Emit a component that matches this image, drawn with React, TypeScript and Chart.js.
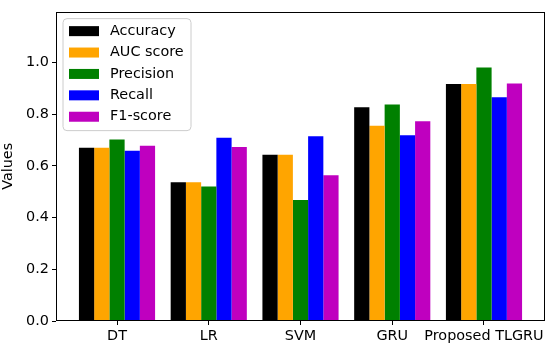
import React, { useEffect, useRef } from "react";
import { Chart, registerables } from "chart.js";

Chart.register(...registerables);

const categories = ["DT", "LR", "SVM", "GRU", "Proposed TLGRU"];
const seriesNames = ["Accuracy", "AUC score", "Precision", "Recall", "F1-score"];
const accuracy = [0.67, 0.536, 0.643, 0.826, 0.916];
const aucScore = [0.67, 0.536, 0.643, 0.755, 0.916];
const precision = [0.702, 0.52, 0.468, 0.837, 0.98];
const recall = [0.658, 0.708, 0.714, 0.718, 0.865];
const f1Score = [0.678, 0.673, 0.563, 0.772, 0.918];
const yTicks = [0, 0.2, 0.4, 0.6, 0.8, 1.0];
const colors = ["#000000", "#ffa500", "#008000", "#0000ff", "#bf00bf"];

const FONT = "DejaVu Sans";
const FS = 14.4;

const framePlugin = {
  id: "frameAndLegend",
  afterDatasetsDraw(chart: any) {
    const { ctx, chartArea } = chart;
    const { left, right, top, bottom } = chartArea;
    ctx.save();
    ctx.strokeStyle = "#000";
    ctx.lineWidth = 1;
    ctx.strokeRect(Math.round(left) + 0.5, Math.round(top) + 0.5, Math.round(right - left) - 1, Math.round(bottom - top) - 1);

    // legend
    const lx = left + 7, ly = top + 7, lw = 128, lh = 112, r = 4;
    ctx.beginPath();
    ctx.moveTo(lx + r, ly);
    ctx.arcTo(lx + lw, ly, lx + lw, ly + lh, r);
    ctx.arcTo(lx + lw, ly + lh, lx, ly + lh, r);
    ctx.arcTo(lx, ly + lh, lx, ly, r);
    ctx.arcTo(lx, ly, lx + lw, ly, r);
    ctx.closePath();
    ctx.fillStyle = "rgba(255,255,255,0.8)";
    ctx.fill();
    ctx.strokeStyle = "#cccccc";
    ctx.stroke();
    ctx.font = `${FS}px "${FONT}"`;
    ctx.textBaseline = "middle";
    ctx.textAlign = "left";
    seriesNames.forEach((name, i) => {
      const cy = ly + 12.5 + i * 21.4;
      ctx.fillStyle = colors[i];
      ctx.fillRect(lx + 6, cy - 5, 30, 10);
      ctx.fillStyle = "#000";
      ctx.fillText(name, lx + 47, cy);
    });

    // y label
    ctx.save();
    ctx.translate(8.5, (top + bottom) / 2);
    ctx.rotate(-Math.PI / 2);
    ctx.textAlign = "center";
    ctx.textBaseline = "middle";
    ctx.fillStyle = "#000";
    ctx.fillText("Values", 0, 0);
    ctx.restore();
    ctx.restore();
  },
};

export default function App() {
  const ref = useRef<HTMLCanvasElement>(null);
  useEffect(() => {
    const series = [accuracy, aucScore, precision, recall, f1Score];
    const chart = new Chart(ref.current!, {
      type: "bar",
      data: {
        datasets: series.map((vals, s) => ({
          label: seriesNames[s],
          data: categories.map((_, i) => ({ x: i, y: vals[i] })),
          backgroundColor: colors[s],
          borderWidth: 0,
          categoryPercentage: 0.83,
          barPercentage: 1.0,
        })),
      },
      options: {
        animation: false,
        responsive: false,
        maintainAspectRatio: false,
        layout: { padding: { top: 4, right: 5, left: 0, bottom: 0 } },
        plugins: { legend: { display: false }, tooltip: { enabled: false } },
        scales: {
          x: {
            type: "linear",
            offset: false,
            min: -0.665,
            max: 4.665,
            afterBuildTicks: (scale: any) => {
              scale.ticks = categories.map((_, i) => ({ value: i }));
            },
            afterFit: (scale: any) => {
              scale.height = 25;
            },
            ticks: {
              callback: (v: any) => categories[Math.round(Number(v))],
              color: "#000",
              font: { family: FONT, size: FS },
              padding: 3,
              maxRotation: 0,
              autoSkip: false,
            },
            grid: { offset: false, drawOnChartArea: false, tickLength: 4, color: "#000", tickColor: "#000" },
            border: { display: false },
          },
          y: {
            min: 0,
            max: 1.196,
            afterBuildTicks: (scale: any) => {
              scale.ticks = yTicks.map((v) => ({ value: v }));
            },
            afterFit: (scale: any) => {
              scale.width = 56;
            },
            ticks: {
              callback: (v: any) => Number(v).toFixed(1),
              color: "#000",
              font: { family: FONT, size: FS },
              padding: 3,
            },
            grid: { drawOnChartArea: false, tickLength: 4, color: "#000", tickColor: "#000" },
            border: { display: false },
          },
        },
      },
      plugins: [framePlugin],
    } as any);
    return () => chart.destroy();
  }, []);
  return (
    <div style={{ position: "absolute", left: 0, top: 0, width: 550, height: 346, background: "#fff" }}>
      <canvas ref={ref} width={550} height={346} style={{ width: 550, height: 346 }} />
    </div>
  );
}
